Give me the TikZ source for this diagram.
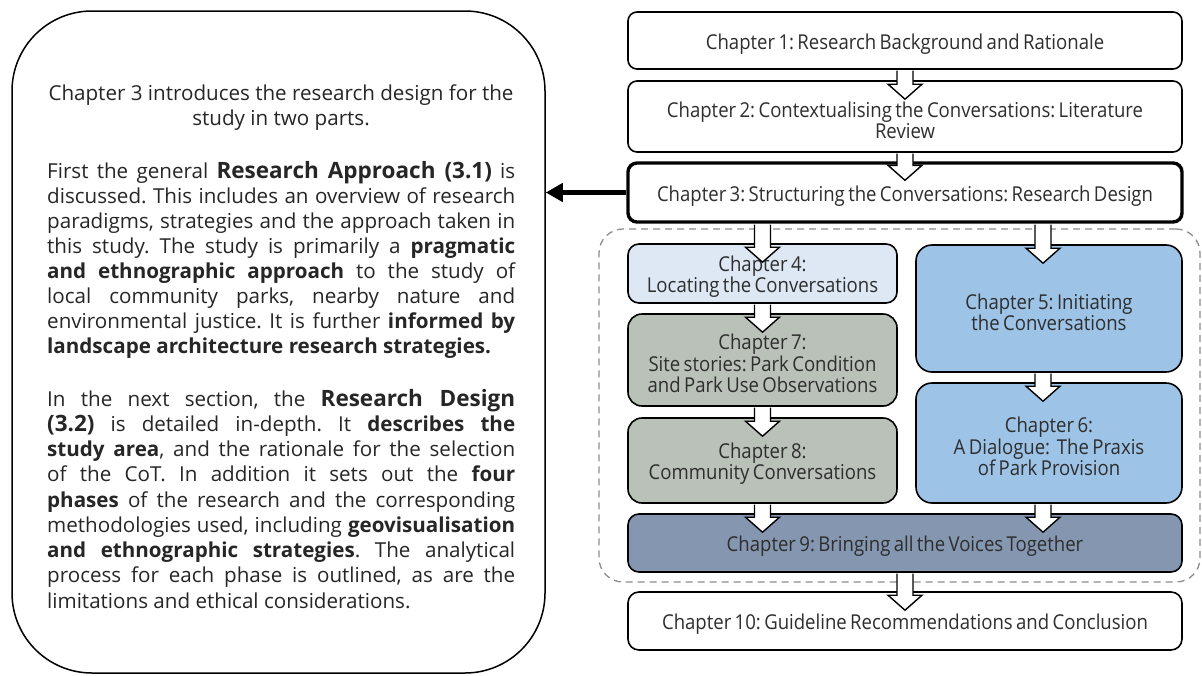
\documentclass[tikz,border=0pt]{standalone}
\usepackage{fontspec}
\setmainfont{Open Sans}
\newfontfamily\chapfont{Open Sans}[FakeStretch=0.905,WordSpace=0.7]
\usetikzlibrary{arrows.meta,calc}
\frenchspacing

\definecolor{bodytxt}{HTML}{262626}
\definecolor{chaptxt}{HTML}{2E2E2E}
\definecolor{paleblue}{HTML}{DDE8F4}
\definecolor{midblue}{HTML}{9DC3E6}
\definecolor{sage}{HTML}{B9C1B8}
\definecolor{slate}{HTML}{8496B0}
\definecolor{dashgray}{HTML}{8C8C8C}

\tikzset{
  chap/.style={draw=black, line width=1.6pt, rounded corners=9pt, fill=white, inner sep=0pt},
  chaptext/.style={text=chaptxt, align=center, inner sep=0pt, yshift=-3.5pt,
    font=\chapfont\fontsize{20.5}{21.3}\selectfont},
  barrow/.style={draw=black, fill=white, line width=1.4pt, line join=miter},
  bodyline/.style={anchor=base west, inner sep=0pt, text=bodytxt,
    font=\fontsize{20.6}{25}\selectfont},
  groupframe/.style={draw=dashgray, line width=1.3pt, dash pattern=on 7pt off 5pt,
    rounded corners=24pt, inner sep=0pt},
}

% justified line, ragged line and centred line of the summary text
\newcommand\jline[3]{\node[bodyline] (#1) at (47,#2) {\makebox[468pt][s]{#3}};}
\newcommand\rline[3]{\node[bodyline] (#1) at (47,#2) {#3};}
\newcommand\centreline[3]{\node[bodyline, anchor=base] (#1) at (281,#2) {#3};}
\newcommand\bighead[1]{{\fontsize{22.5}{25}\selectfont\bfseries #1}}

% hollow block arrow from one box into the next; x taken from a reference node
\newcommand\blockarrow[4][0]{%
  \path[barrow] let \p1=(#2.south), \p2=(#3.north), \p3=($(#4.center)+(#1,0)$) in
    (\x3-8pt,\y1-0.8pt) -- (\x3-8pt,\y2-4pt) -- (\x3-17pt,\y2-4pt) --
    (\x3,\y2-19pt) -- (\x3+17pt,\y2-4pt) -- (\x3+8pt,\y2-4pt) -- (\x3+8pt,\y1-0.8pt);}

\begin{document}
\begin{tikzpicture}[x=1pt,y=-1pt]
\useasboundingbox (0,0) rectangle (1202,675);
\fill[white] (0,0) rectangle (1202,675);

% summary panel
\node[draw=black, line width=1.5pt, rounded corners=80pt, inner sep=0pt,
      minimum width=533pt, minimum height=662pt] (summary) at (278.5,342) {};

\centreline{p1a}{100}{Chapter 3 introduces the research design for the}
\centreline{p1b}{125.5}{study in two parts.}

\jline{p2a}{178}{First the general \bighead{Research Approach (3.1)} is}
\jline{p2b}{203}{discussed. This includes an overview of research}
\jline{p2c}{228}{paradigms, strategies and the approach taken in}
\jline{p2d}{253}{this study. The study is primarily a \textbf{pragmatic}}
\jline{p2e}{278}{\textbf{and ethnographic approach} to the study of}
\jline{p2f}{303}{local community parks, nearby nature and}
\jline{p2g}{328}{environmental justice. It is further \textbf{informed by}}
\rline{p2h}{353}{\textbf{landscape architecture research strategies.}}

\jline{p3a}{406}{In the next section, the \bighead{Research Design}}
\jline{p3b}{431.3}{\bighead{(3.2)} is detailed in-depth. It \textbf{describes the}}
\jline{p3c}{456.5}{\textbf{study area}, and the rationale for the selection}
\jline{p3d}{481.8}{of the CoT. In addition it sets out the \textbf{four}}
\jline{p3e}{507}{\textbf{phases} of the research and the corresponding}
\jline{p3f}{532.3}{methodologies used, including \textbf{geovisualisation}}
\jline{p3g}{557.5}{\textbf{and ethnographic strategies}. The analytical}
\jline{p3h}{582.8}{process for each phase is outlined, as are the}
\rline{p3i}{608}{limitations and ethical considerations.}

% dashed grouping of chapters 4 to 9
\node[groupframe, minimum width=601pt, minimum height=353pt] (grp) at (899.5,405.5) {};

% chapter boxes, each with its title set on the centre
\node[chap, minimum width=554pt, minimum height=57pt,
  label={[chaptext]center:Chapter 1: Research Background and Rationale}] (c1) at (905,40.5) {};
\node[chap, minimum width=554pt, minimum height=71pt,
  label={[chaptext]center:{Chapter 2: Contextualising the Conversations: Literature\\Review}}] (c2) at (905,116.5) {};
\node[chap, line width=3.4pt, minimum width=554pt, minimum height=59pt,
  label={[chaptext]center:Chapter 3: Structuring the Conversations: Research Design}] (c3) at (905,192.5) {};
\node[chap, fill=paleblue, rounded corners=11pt, minimum width=269pt, minimum height=59pt,
  label={[chaptext]center:{Chapter 4:\\Locating the Conversations}}] (c4) at (762.5,273.5) {};
\node[chap, fill=midblue, rounded corners=16pt, minimum width=266pt, minimum height=127pt,
  label={[chaptext]center:{Chapter 5: Initiating\\the Conversations}}] (c5) at (1049,308.5) {};
\node[chap, fill=sage, rounded corners=14pt, minimum width=269pt, minimum height=92pt,
  label={[chaptext]center:{Chapter 7:\\Site stories: Park Condition\\and Park Use Observations}}] (c7) at (762.5,360) {};
\node[chap, fill=sage, rounded corners=14pt, minimum width=269pt, minimum height=85pt,
  label={[chaptext]center:{Chapter 8:\\Community Conversations}}] (c8) at (762.5,460.5) {};
\node[chap, fill=midblue, rounded corners=16pt, minimum width=266pt, minimum height=120pt,
  label={[chaptext]center:{Chapter 6:\\A Dialogue:\ \ The Praxis\\of Park Provision}}] (c6) at (1049,443) {};
\node[chap, fill=slate, rounded corners=11pt, minimum width=554pt, minimum height=58pt,
  label={[chaptext]center:Chapter 9: Bringing all the Voices Together}] (c9) at (905,543) {};
\node[chap, rounded corners=11pt, minimum width=554pt, minimum height=58pt,
  label={[chaptext]center:Chapter 10: Guideline Recommendations and Conclusion}] (c10) at (905,621) {};

% flow between chapters
\blockarrow{c1}{c2}{c2}
\blockarrow{c2}{c3}{c3}
\blockarrow{c3}{c4}{c4}
\blockarrow[-6]{c3}{c5}{c5}
\blockarrow{c4}{c7}{c4}
\blockarrow{c7}{c8}{c7}
\blockarrow[-6]{c5}{c6}{c5}
\blockarrow{c8}{c9}{c8}
\blockarrow[-6]{c6}{c9}{c6}
\blockarrow{c9}{c10}{c10}

% link from chapter 3 to its summary
\draw[line width=4.5pt, -{Triangle[length=17pt,width=18pt]}]
  (c3.west) -- (c3.west -| summary.east);
\end{tikzpicture}
\end{document}
